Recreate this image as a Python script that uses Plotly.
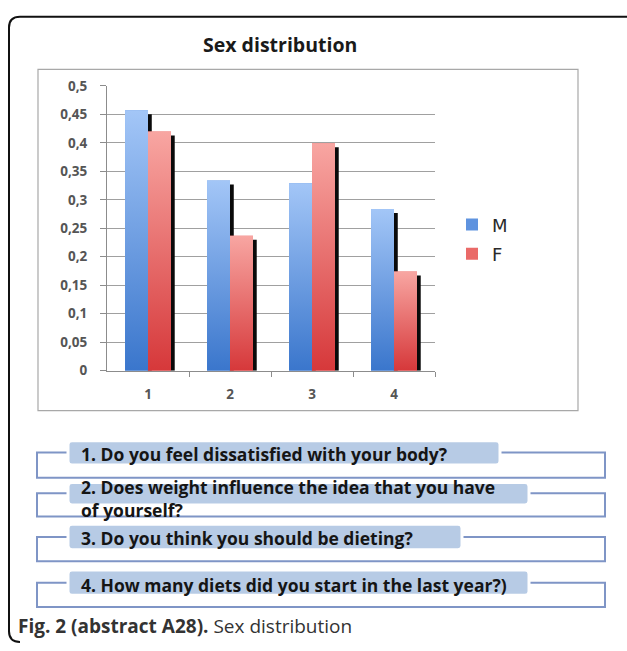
import plotly.graph_objects as go

# ---- data -------------------------------------------------------------
questions = [1, 2, 3, 4]
male = [0.457, 0.334, 0.329, 0.284]
female = [0.420, 0.237, 0.399, 0.174]
y_ticks = [0, 0.05, 0.1, 0.15, 0.2, 0.25, 0.3, 0.35, 0.4, 0.45, 0.5]
y_tick_text = ["0", "0,05", "0,1", "0,15", "0,2", "0,25", "0,3", "0,35", "0,4", "0,45", "0,5"]
question_text = [
    "1. Do you feel dissatisfied with your body?",
    "2. Does weight influence the idea that you have<br>of yourself?",
    "3. Do you think you should be dieting?",
    "4. How many diets did you start in the last year?)",
]

W, H = 627, 651


def px(x):
    return x / W


def py(y):
    return 1 - y / H


BAR_W = 0.28      # width of one bar in category units
SHADOW_W = 0.05   # width of the dark drop shadow
SHADOW_DROP = 0.007

series = [
    ("M", male, -BAR_W, "#5f93df", "#3a76cc", "#a3c6f7"),
    ("F", female, 0.0, "#ea6a68", "#d6383a", "#f8a6a2"),
]

fig = go.Figure()

for i, (name, vals, off, solid, dark, light) in enumerate(series):
    # drop shadow along the right edge
    fig.add_trace(go.Bar(
        x=questions, y=[v - SHADOW_DROP for v in vals],
        offset=off + BAR_W - 0.004, width=SHADOW_W,
        marker=dict(color="#0a0a0a", line_width=0),
        showlegend=False, hoverinfo="skip",
    ))
    # the bar itself
    fig.add_trace(go.Bar(
        x=questions, y=vals, offset=off, width=BAR_W, name=name,
        marker=dict(color=solid, line_width=0),
        legend="legend" if i == 0 else "legend2",
    ))

# vertical gradient fill drawn over each bar
for name, vals, off, solid, dark, light in series:
    for q, v in zip(questions, vals):
        x0, x1 = q + off, q + off + BAR_W
        fig.add_trace(go.Scatter(
            x=[x0, x1, x1, x0, x0], y=[0, 0, v, v, 0],
            mode="lines", line=dict(width=0), fill="toself",
            fillgradient=dict(type="vertical",
                              colorscale=[[0, dark], [1, light]]),
            showlegend=False, hoverinfo="skip",
        ))

tick_font = dict(family="Open Sans", size=13.5, color="#555555", weight="bold")
legend_font = dict(family="DejaVu Sans", size=18, color="#2a2a2a")

fig.update_layout(
    width=W, height=H,
    margin=dict(l=0, r=0, t=0, b=0),
    paper_bgcolor="white", plot_bgcolor="white",
    barmode="overlay",
    xaxis=dict(
        domain=[px(107), px(435)], range=[0.5, 4.5],
        tickvals=questions, ticktext=[str(q) for q in questions],
        ticks="", showgrid=False, zeroline=False,
        showline=True, linecolor="#8c8c8c", linewidth=1,
        tickfont=tick_font, ticklabelstandoff=11,
        minor=dict(tickmode="array", tickvals=[1.5, 2.5, 3.5, 4.5],
                   ticks="outside", ticklen=5, tickcolor="#8c8c8c"),
    ),
    yaxis=dict(
        domain=[py(372), py(79)], range=[0, 0.5],
        tickvals=y_ticks, ticktext=y_tick_text,
        ticks="outside", ticklen=6, tickcolor="#8c8c8c",
        showgrid=True, gridcolor="#a0a0a0", gridwidth=1,
        zeroline=False, showline=True, linecolor="#8c8c8c",
        tickfont=tick_font, ticklabelstandoff=10,
    ),
    legend=dict(x=px(452), y=py(222), xanchor="left", yanchor="middle",
                font=legend_font, bgcolor="rgba(0,0,0,0)", itemwidth=30),
    legend2=dict(x=px(452), y=py(252), xanchor="left", yanchor="middle",
                 font=legend_font, bgcolor="rgba(0,0,0,0)", itemwidth=30),
)

shapes = []
# outer rounded frame (open on the right and bottom)
r = 11
shapes.append(dict(
    type="path", xref="paper", yref="paper",
    path=(f"M {px(640)},{py(8)} L {px(9 + r)},{py(8)} "
          f"Q {px(9)},{py(8)} {px(9)},{py(8 + r)} "
          f"L {px(9)},{py(651 - r)} Q {px(9)},{py(651)} {px(9 + r)},{py(651)}"),
    line=dict(color="#111111", width=2),
))
# chart area border
shapes.append(dict(type="rect", xref="paper", yref="paper",
                   x0=px(38), x1=px(578), y0=py(413), y1=py(62),
                   line=dict(color="#a8a8a8", width=1.2)))

boxes = [(456, 482, 444, 469, 500), (498, 522, 487, 510, 529),
         (543, 568, 530, 556, 462), (590, 615, 577, 603, 529)]


def rounded(x0, y0, x1, y1, rr=4):
    return (f"M {px(x0 + rr)},{py(y0)} L {px(x1 - rr)},{py(y0)} "
            f"Q {px(x1)},{py(y0)} {px(x1)},{py(y0 + rr)} "
            f"L {px(x1)},{py(y1 - rr)} Q {px(x1)},{py(y1)} {px(x1 - rr)},{py(y1)} "
            f"L {px(x0 + rr)},{py(y1)} Q {px(x0)},{py(y1)} {px(x0)},{py(y1 - rr)} "
            f"L {px(x0)},{py(y0 + rr)} Q {px(x0)},{py(y0)} {px(x0 + rr)},{py(y0)} Z")


for top, bot, ltop, lbot, lright in boxes:
    shapes.append(dict(type="rect", xref="paper", yref="paper",
                       x0=px(37), x1=px(605), y0=py(bot), y1=py(top),
                       line=dict(color="#7f95c6", width=2)))
    shapes.append(dict(type="path", xref="paper", yref="paper",
                       path=rounded(68, ltop, lright, lbot),
                       fillcolor="#b7cbe5", line=dict(color="white", width=3)))
fig.update_layout(shapes=shapes)

annotations = [
    dict(text="<b>Sex distribution</b>", x=px(280), y=py(37),
         font=dict(family="Open Sans", size=19.5, color="#1a1a1a"), xanchor="center"),
    dict(text="<b>Fig. 2 (abstract A28).</b> Sex distribution", x=px(16), y=py(635),
         font=dict(family="Open Sans", size=19, color="#333333"), xanchor="left"),
]
text_y = [458, 503, 544, 592]
for t, yy in zip(question_text, text_y):
    annotations.append(dict(
        text=f"<b>{t}</b>", x=px(79), y=py(yy), xanchor="left", align="left",
        font=dict(family="Open Sans", size=17.5, color="#151515"),
    ))
for a in annotations:
    a.update(xref="paper", yref="paper", yanchor="middle", showarrow=False)
fig.update_layout(annotations=annotations)

fig.write_html("out.html")
